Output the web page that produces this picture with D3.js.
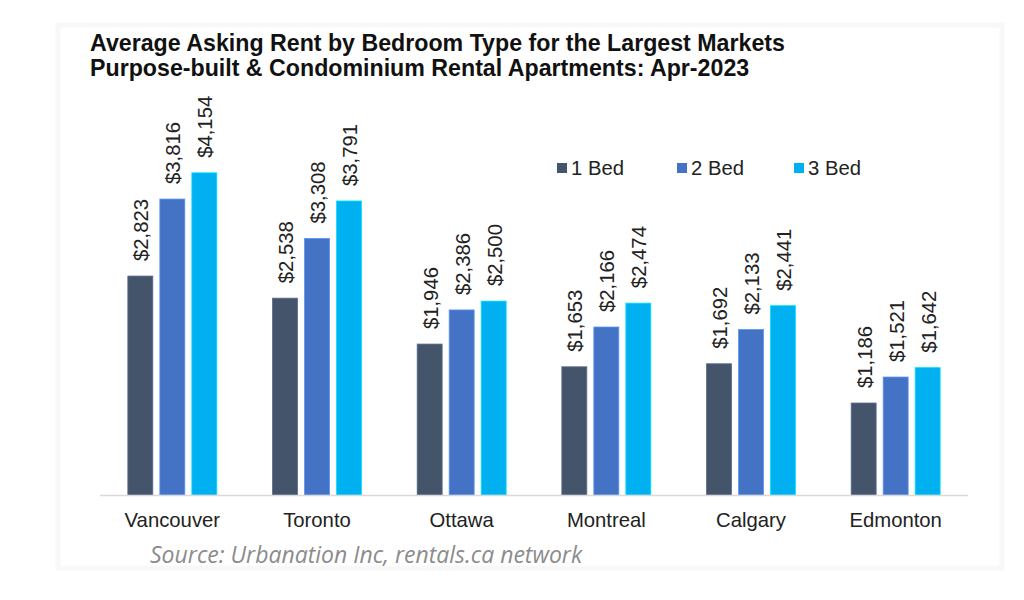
<!DOCTYPE html>
<html>
<head>
  <meta charset="UTF-8">
  <style>
    body { margin: 0; background: #fff; }
    svg { display: block; }
    .title { font: bold 23.2px "Liberation Sans", Arial, sans-serif; fill: #111; }
    .label { font: 20.3px "Liberation Sans", Arial, sans-serif; fill: #222; }
    .source { font: italic 23px "Open Sans", sans-serif; fill: #8c8c8c; }
  </style>
</head>
<body>
  <svg width="1024" height="600"></svg>
  <script src="https://d3js.org/d3.v7.min.js"></script>
  <script>
    // data
    const cities = ['Vancouver', 'Toronto', 'Ottawa', 'Montreal', 'Calgary', 'Edmonton'];
    const seriesNames = ['1 Bed', '2 Bed', '3 Bed'];
    const bed1 = [2823, 2538, 1946, 1653, 1692, 1186];
    const bed2 = [3816, 3308, 2386, 2166, 2133, 1521];
    const bed3 = [4154, 3791, 2500, 2474, 2441, 1642];
    const colors = ['#44546a', '#4472c4', '#00b0f0'];
    const titleLines = [
      'Average Asking Rent by Bedroom Type for the Largest Markets',
      'Purpose-built & Condominium Rental Apartments: Apr-2023'
    ];
    const sourceText = 'Source: Urbanation Inc, rentals.ca network';

    const series = [bed1, bed2, bed3];
    const rows = cities.map((c, i) => ({
      city: c,
      values: seriesNames.map((s, j) => ({ key: s, value: series[j][i], color: colors[j] }))
    }));

    const svg = d3.select('svg');

    // faint panel edge
    svg.append('rect')
      .attr('x', 58).attr('y', 25)
      .attr('width', 944).attr('height', 543)
      .attr('fill', 'none')
      .attr('stroke', '#f8f8f8')
      .attr('stroke-width', 5);

    // title
    svg.append('text')
      .attr('class', 'title')
      .selectAll('tspan')
      .data(titleLines)
      .enter()
      .append('tspan')
      .attr('x', 90)
      .attr('y', (d, i) => 51 + i * 25)
      .text(d => d);

    // scales
    const x0 = d3.scaleBand()
      .domain(cities)
      .range([100, 968])
      .paddingInner(0.385)
      .paddingOuter(0.1925);

    const x1 = d3.scaleBand()
      .domain(seriesNames)
      .range([0, x0.bandwidth()])
      .paddingInner(0.22);

    const y = d3.scaleLinear()
      .domain([0, 4500])
      .range([495, 146]);

    // bars
    const groups = svg.append('g')
      .selectAll('g')
      .data(rows)
      .enter()
      .append('g')
      .attr('transform', d => `translate(${x0(d.city)},0)`);

    groups.selectAll('rect')
      .data(d => d.values)
      .enter()
      .append('rect')
      .attr('x', d => x1(d.key))
      .attr('y', d => y(d.value))
      .attr('width', x1.bandwidth())
      .attr('height', d => y(0) - y(d.value))
      .attr('fill', d => d.color)
      .attr('stroke', d => d3.color(d.color).brighter(0.7))
      .attr('stroke-width', 0.8);

    // value labels, rotated
    groups.selectAll('text')
      .data(d => d.values)
      .enter()
      .append('text')
      .attr('class', 'label')
      .attr('transform', d => `translate(${x1(d.key) + x1.bandwidth() / 2 + 1},${y(d.value) - 15}) rotate(-90)`)
      .attr('dy', '0.35em')
      .text(d => d3.format('$,')(d.value));

    // x axis
    const xAxis = svg.append('g')
      .attr('transform', `translate(0,${y(0)})`)
      .call(d3.axisBottom(x0).tickSize(0).tickPadding(18));
    xAxis.select('.domain')
      .attr('stroke', '#d9d9d9')
      .attr('stroke-width', 1.5)
      .attr('d', 'M100,0.5H968');
    xAxis.selectAll('.tick text')
      .attr('class', 'label')
      .attr('font-size', null)
      .attr('font-family', null)
      .attr('fill', null);
    xAxis.attr('font-size', null).attr('font-family', null);

    // legend
    const legendX = [557, 677, 794];
    const legend = svg.append('g')
      .selectAll('g')
      .data(seriesNames)
      .enter()
      .append('g')
      .attr('transform', (d, i) => `translate(${legendX[i]},168)`);
    legend.append('rect')
      .attr('x', 0).attr('y', -5)
      .attr('width', 10).attr('height', 10)
      .attr('fill', (d, i) => colors[i]);
    legend.append('text')
      .attr('class', 'label')
      .attr('x', 14)
      .attr('dy', '0.35em')
      .text(d => d);

    // source
    svg.append('text')
      .attr('class', 'source')
      .attr('x', 150)
      .attr('y', 563)
      .text(sourceText);
  </script>
</body>
</html>
